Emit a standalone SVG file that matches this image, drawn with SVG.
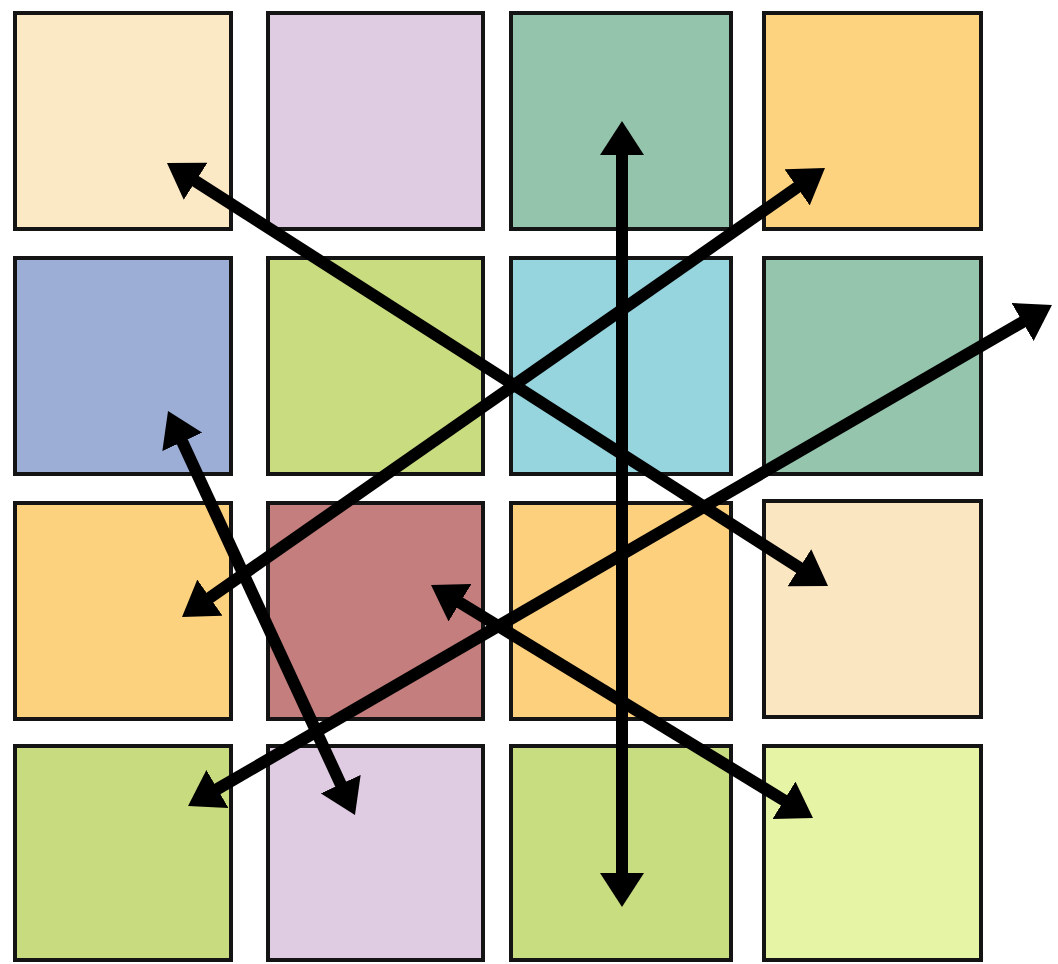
<svg xmlns="http://www.w3.org/2000/svg" width="1058" height="964" viewBox="0 0 1058 964">
<style>
.sq{stroke:#141414;stroke-width:4}
.ar{stroke:#000;stroke-width:12;fill:none;marker-start:url(#ah);marker-end:url(#ah)}
</style>
<defs>
<marker id="ah" viewBox="0 0 34 44" refX="10" refY="22" markerWidth="34" markerHeight="44" markerUnits="userSpaceOnUse" orient="auto-start-reverse">
<path d="M0,0 L34,22 L0,44 z" fill="#000"/>
</marker>
</defs>
<rect width="1058" height="964" fill="#fff"/>
<g id="r1c1"><rect class="sq" x="15" y="13" width="216" height="216" fill="#fbe8c5"/></g>
<g id="r1c2"><rect class="sq" x="268" y="13" width="215" height="216" fill="#dfcce3"/></g>
<g id="r1c3"><rect class="sq" x="511" y="13" width="220" height="216" fill="#94c5ac"/></g>
<g id="r1c4"><rect class="sq" x="764" y="13" width="217" height="216" fill="#fdd37f"/></g>
<g id="r2c1"><rect class="sq" x="15" y="258" width="216" height="216" fill="#9caed6"/></g>
<g id="r2c2"><rect class="sq" x="268" y="258" width="215" height="216" fill="#c9dc7f"/></g>
<g id="r2c3"><rect class="sq" x="511" y="258" width="220" height="216" fill="#96d4de"/></g>
<g id="r2c4"><rect class="sq" x="764" y="258" width="217" height="216" fill="#95c5ad"/></g>
<g id="r3c1"><rect class="sq" x="15" y="503" width="216" height="216" fill="#fdd27f"/></g>
<g id="r3c2"><rect class="sq" x="268" y="503" width="215" height="216" fill="#c47e7e"/></g>
<g id="r3c3"><rect class="sq" x="511" y="503" width="220" height="216" fill="#fdd07e"/></g>
<g id="r3c4"><rect class="sq" x="764" y="501" width="217" height="216" fill="#fbe6c2"/></g>
<g id="r4c1"><rect class="sq" x="15" y="746" width="216" height="214" fill="#c8dc7f"/></g>
<g id="r4c2"><rect class="sq" x="268" y="746" width="215" height="214" fill="#dfcbe2"/></g>
<g id="r4c3"><rect class="sq" x="511" y="746" width="220" height="214" fill="#c8dc80"/></g>
<g id="r4c4"><rect class="sq" x="764" y="746" width="217" height="214" fill="#e6f4a5"/></g>
<g id="connectors">
<path class="ar" d="M187.2,175.9 L807.8,573.1"/>
<path class="ar" d="M201.7,603.3 L805.3,181.7"/>
<path class="ar" d="M622,145 L622,883"/>
<path class="ar" d="M178.1,432.8 L344.9,793.2"/>
<path class="ar" d="M208.8,794 L1031.2,317"/>
<path class="ar" d="M451.5,597.5 L792.5,805.5"/>
</g>
</svg>
